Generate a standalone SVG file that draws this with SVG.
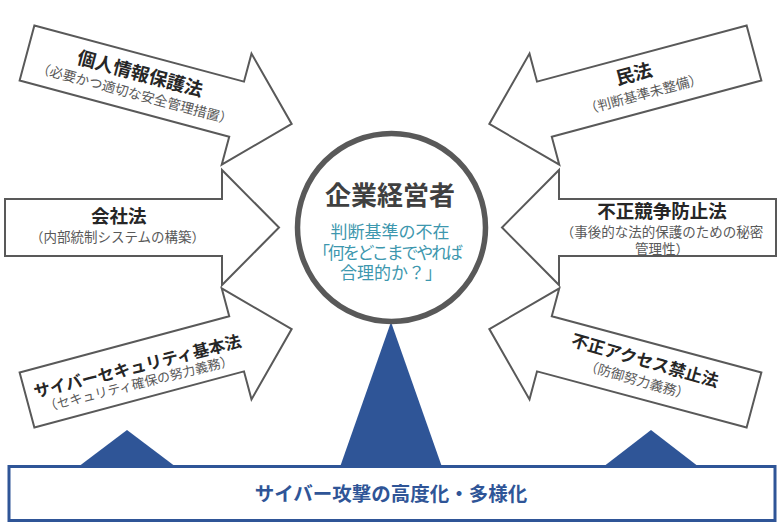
<svg xmlns="http://www.w3.org/2000/svg" width="778" height="526" viewBox="0 0 778 526">
<style>
text{font-family:"Noto Sans CJK JP","Noto Sans",sans-serif;text-anchor:middle}
.arrow{fill:#fff;stroke:#595959;stroke-width:2;stroke-linejoin:miter}
.t{font-weight:bold;fill:#262626}
.s{fill:#595959;font-size:13.5px}
.blue{fill:#2F5597}
.c{fill:#3D97AE;font-size:17px}
</style>
<defs>
<path id="arrowShape" class="arrow" d="M0,-28.5 H217 V-57.5 L274,0 L217,57.5 V28.5 H0 Z"/>
</defs>
<rect width="778" height="526" fill="#fff"/>
<g id="attack-triangles">
<polygon class="blue" points="127,430 78,467 176,467"/>
<polygon class="blue" points="391,322 340,467 442,467"/>
<polygon class="blue" points="651,430 603,467 699,467"/>
</g>
<g id="connectors">
<use href="#arrowShape" transform="translate(27,53) rotate(15)"/>
<use href="#arrowShape" transform="translate(5,227.5)"/>
<use href="#arrowShape" transform="translate(27,400) rotate(-15)"/>
<use href="#arrowShape" transform="translate(754,53) rotate(165)"/>
<use href="#arrowShape" transform="translate(776,227.5) rotate(180)"/>
<use href="#arrowShape" transform="translate(754,400) rotate(195)"/>
</g>
<g id="law-personal" transform="translate(140,74.3) rotate(15)">
<text class="t" y="6" font-size="18.5">個人情報保護法</text>
<text class="s" y="25">（必要かつ適切な安全管理措置）</text>
</g>
<g id="law-company">
<text class="t" x="118.7" y="223" font-size="18.5">会社法</text>
<text class="s" x="117.5" y="241.5" font-size="13">（内部統制システムの構築）</text>
</g>
<g id="law-cyber" transform="translate(137.5,366.5) rotate(-14)">
<text class="t" y="6" font-size="16.5">サイバーセキュリティ基本法</text>
<text class="s" x="-3" y="21.5" style="font-size:13px">（セキュリティ確保の努力義務）</text>
</g>
<g id="law-civil" transform="translate(634,74.7) rotate(-15)">
<text class="t" y="6" font-size="18.5">民法</text>
<text class="s" x="4" y="26">（判断基準未整備）</text>
</g>
<g id="law-competition">
<text class="t" x="662" y="218" font-size="18.5">不正競争防止法</text>
<text class="s" x="662" y="236.5">（事後的な法的保護のための秘密</text>
<text class="s" x="662" y="253.5">管理性）</text>
</g>
<g id="law-access" transform="translate(645,360.8) rotate(16)">
<text class="t" y="6" font-size="17">不正アクセス禁止法</text>
<text class="s" x="-2.3" y="25.5">（防御努力義務）</text>
</g>
<g id="manager">
<circle cx="391.5" cy="227.5" r="94" fill="#fff" stroke="#595959" stroke-width="5.5"/>
<text x="390" y="205" font-size="26" font-weight="bold" fill="#404040">企業経営者</text>
<text class="c" x="390" y="238">判断基準の不在</text>
<text class="c" x="388" y="258.5" textLength="150" lengthAdjust="spacing">「何をどこまでやれば</text>
<text class="c" x="391" y="279">合理的か？」</text>
</g>
<g id="attack">
<rect x="9" y="466.5" width="766" height="54" fill="#fff" stroke="#2F5597" stroke-width="3"/>
<text x="391" y="500.5" font-size="19.5" font-weight="bold" fill="#2F5597">サイバー攻撃の高度化・多様化</text>
</g>
</svg>
